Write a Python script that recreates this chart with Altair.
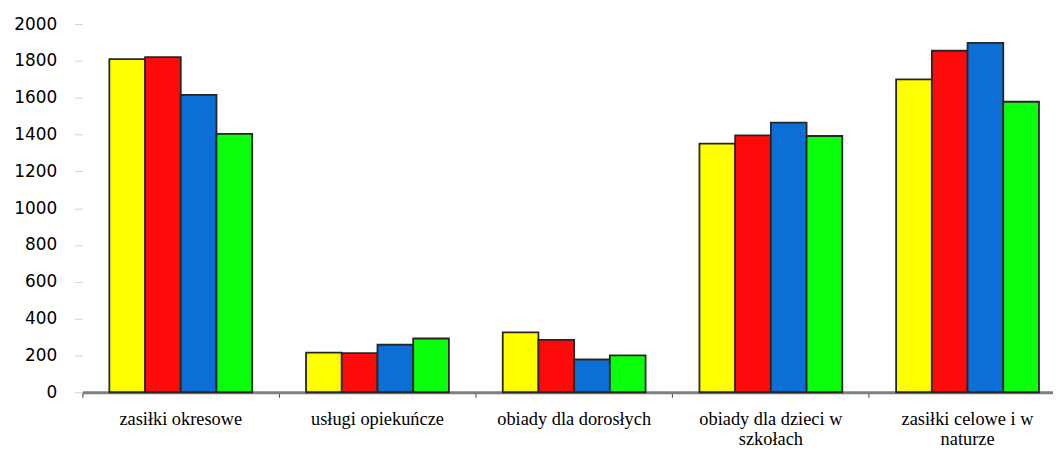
import altair as alt
import pandas as pd

categories = [
    "zasiłki okresowe",
    "usługi opiekuńcze",
    "obiady dla dorosłych",
    "obiady dla dzieci w\nszkołach",
    "zasiłki celowe i w\nnaturze",
]
series = ["Seria 1", "Seria 2", "Seria 3", "Seria 4"]
colors = ["#FFFF00", "#FF0A0A", "#0C6FD6", "#0AFF0A"]

s1 = [1810, 215, 325, 1350, 1700]
s2 = [1820, 213, 285, 1395, 1855]
s3 = [1615, 258, 178, 1465, 1898]
s4 = [1403, 292, 200, 1392, 1578]
y_ticks = list(range(0, 2001, 200))

rows = []
for name, vals in zip(series, [s1, s2, s3, s4]):
    for c, v in zip(categories, vals):
        rows.append({"kategoria": c, "seria": name, "wartosc": v})
df = pd.DataFrame(rows)

chart = alt.Chart(df).mark_bar(stroke="#262626", strokeWidth=1.8).encode(
    x=alt.X(
        "kategoria:N",
        sort=categories,
        scale=alt.Scale(paddingInner=0, paddingOuter=0, range=[0, 991]),
        axis=alt.Axis(
            title=None,
            labelAngle=0,
            bandPosition=0,
            labelExpr="split(datum.label, '\\n')",
            labelFont="Liberation Serif",
            labelFontSize=18.5,
            labelColor="#000000",
            labelBaseline="alphabetic",
            labelLineHeight=20,
            labelPadding=27.5,
            labelLimit=300,
            tickSize=5,
            tickColor="#404040",
            tickWidth=1,
            domainColor="#7f7f7f",
            domainWidth=3,
        ),
    ),
    xOffset=alt.XOffset(
        "seria:N", sort=series, scale=alt.Scale(paddingInner=0, paddingOuter=0.754)
    ),
    y=alt.Y(
        "wartosc:Q",
        scale=alt.Scale(domain=[0, 2000], nice=False),
        axis=alt.Axis(
            title=None,
            values=y_ticks,
            format="d",
            grid=False,
            domain=False,
            tickSize=8,
            tickColor="#d4d4d4",
            labelFont="DejaVu Sans",
            labelFontSize=17,
            labelColor="#000000",
            labelPadding=18,
        ),
    ),
    color=alt.Color(
        "seria:N", sort=series, scale=alt.Scale(domain=series, range=colors), legend=None
    ),
).properties(
    width=978,
    height=371,
    autosize=alt.AutoSizeParams(type="none"),
    padding={"left": 75, "top": 14.5, "right": 0, "bottom": 56.5},
).configure_view(stroke=None)

chart.save("out.html", embed_options={"renderer": "svg", "actions": False})
